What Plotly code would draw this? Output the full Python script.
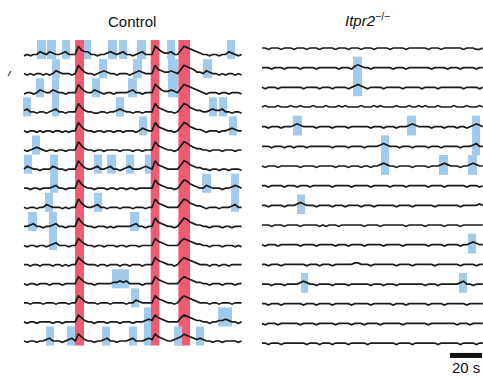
import plotly.graph_objects as go

# ---------------- data ----------------
SAMPLE_DT = 2.0  # seconds between samples

# Control traces (top to bottom). Each digit = dF/F level sample (baseline ~3)
control_traces = [
    "2323354354 3345333965 5332334543 4533234533 3975445336 9876543323 323354323",
    "3232332323 5433323964 3323454332 3332345433 3965445436 9876443543 323233232",
    "2332354335 4332333964 3354323323 3334533233 3975445436 9876543233 323323332",
    "4533233234 5332333964 3322332334 5433233233 3965433236 9865443345 445332332",
    "3233232332 3323233964 3323323323 3233323543 3965433236 9865443233 323345433",
    "3234543233 2332333964 3323323333 2333233233 3965433236 9865443323 332333233",
    "3543323335 4332333964 3345334533 2345333454 3965433336 9865443323 323323332",
    "3323323334 5332333964 3323332332 3323323333 3965433236 9865433543 332334543",
    "3233233543 3323233964 3345332333 2333233323 3965433336 9865443233 323334533",
    "3345332334 5332333964 3323332323 3333453323 3965433236 9865443323 332332333",
    "3233233234 5333233864 3323323332 3323332333 3865433336 8765443323 332333232",
    "3323323332 3323233864 3332332333 2332333233 3865433236 8765433323 323323333",
    "3233233323 3323333864 3323333344 5453333233 3865433336 8765443323 332333233",
    "3323332333 2333233864 3332333233 3323354333 3865433236 8765433323 323332333",
    "3233233332 3323333864 3323332333 2333233345 4865433336 8765443323 344543323",
    "3233233453 3323453864 3323345332 3334533345 4865433456 8765454332 332333323",
]

# Itpr2-/- traces (top to bottom)
itpr2_traces = [
    "3323332333 2333233323 3332333233 3233323333 2333323333 3323332333 3332333223",
    "3332333233 3323333233 3333233324 5433233333 3233323333 3332333323 3323333233",
    "3233323333 3332333323 3323333234 5432333323 3333233333 2333323333 3332333323",
    "3433343334 3343334333 4333434333 3433343433 3343334334 3433343333 4333433343",
    "3323332333 4543333233 3323333233 3333233323 3323334543 3332333233 3233234543",
    "3332333233 2333233333 3323333233 3323333454 3332333233 3323332333 3323334533",
    "3233323333 3323333233 3332333233 3233233454 3323333233 3323334543 3323345433",
    "3323333233 3233323333 3323333323 3333233333 2333323333 3323333233 3333233323",
    "3323333233 3454333233 3323332333 3233323333 3323333233 3333233333 3323333343",
    "3332333233 3323333323 2333233333 3323333233 3333323333 3233333233 3323333333",
    "3233323333 3323333233 3332333233 3323333323 3333233333 3323333233 3323345433",
    "3323332333 3333233323 3323333334 4333233333 3323333233 3333233333 3323333233",
    "3332333233 3345433233 3323333233 3333233323 3323333333 3233323333 3345332333",
    "3323332333 3332333233 3323333323 3333233333 3233323333 3323333233 3333233333",
    "3233323333 3323333233 3332333323 3323333233 3333233333 3323333333 3233323333",
    "3323332333 3333233323 3323333233 3332333333 3323333233 3333323333 3323333233",
]

# Global (synchronous) events in Control, seconds
global_events = [(31.9, 37.5), (79.2, 84.6), (96.5, 103.8)]

# Local events: (first trace, last trace, t start s, t end s)
control_events = [
    (0, 0, 8.1, 13.8), (0, 0, 14.4, 20.0), (1, 1, 17.5, 22.5), (0, 0, 23.8, 28.8),
    (0, 0, 37.5, 41.9), (0, 0, 52.5, 58.1), (0, 0, 59.4, 64.4), (0, 0, 70.6, 76.3),
    (1, 1, 68.1, 73.8), (2, 2, 65.0, 70.6), (0, 0, 89.4, 94.4), (1, 2, 90.0, 96.3),
    (0, 0, 126.9, 131.9), (1, 1, 46.9, 51.9), (1, 1, 111.9, 117.5), (2, 2, 7.5, 12.5),
    (2, 3, 17.5, 21.9), (2, 2, 42.5, 47.5), (3, 3, -0.6, 4.4), (3, 3, 57.5, 62.5),
    (3, 3, 115.6, 120.6), (3, 3, 121.9, 126.9), (4, 4, 71.9, 76.9), (4, 4, 128.1, 133.1),
    (5, 5, 5.0, 10.0), (6, 6, 0.0, 5.0), (6, 7, 16.3, 21.3), (6, 6, 43.8, 48.8),
    (6, 6, 51.9, 57.5), (6, 6, 63.8, 68.8), (6, 6, 75.6, 79.4), (7, 7, 111.3, 116.9),
    (7, 8, 129.4, 134.4), (8, 8, 13.1, 18.1), (8, 8, 43.8, 48.8), (9, 9, 2.5, 8.1),
    (9, 10, 15.6, 20.6), (9, 9, 66.3, 71.9), (12, 12, 55.0, 65.6), (13, 13, 66.9, 71.9),
    (14, 15, 75.0, 79.4), (14, 14, 121.3, 130.0), (15, 15, 13.8, 18.8), (15, 15, 26.9, 31.9),
    (15, 15, 48.8, 53.8), (15, 15, 65.6, 70.6), (15, 15, 93.8, 98.8), (15, 15, 107.5, 112.5),
]

itpr2_events = [
    (1, 2, 56.9, 62.5), (4, 4, 19.4, 25.0), (4, 4, 90.6, 96.3), (4, 5, 131.3, 136.3),
    (6, 6, 128.8, 134.4), (5, 6, 74.4, 79.4), (6, 6, 110.6, 116.3), (8, 8, 21.9, 26.9),
    (10, 10, 128.8, 133.8), (12, 12, 24.4, 28.8), (12, 12, 123.1, 128.1),
]

scale_bar_s = 20

# ---------------- figure ----------------
AMP = 0.072      # trace units per digit step (relative to trace spacing)
BASE = 3
LINE = dict(color="#1a1a1a", width=1.7)
BLUE = "#a0cbec"
RED = "#ef5b70"

fig = go.Figure()


def add_traces(traces, xa, ya):
    for k, s in enumerate(traces):
        vals = [int(c) for c in s.replace(" ", "")]
        t = [i * SAMPLE_DT for i in range(len(vals))]
        y = [-k + (v - BASE) * AMP for v in vals]
        fig.add_trace(go.Scatter(x=t, y=y, mode="lines", line=LINE, xaxis=xa, yaxis=ya,
                                 hoverinfo="skip", showlegend=False))


add_traces(control_traces, "x", "y")
add_traces(itpr2_traces, "x2", "y2")

shapes = []
# row extents (above / below baseline) per panel
L_UP, L_DN = 0.76, 0.24
R_UP, R_DN = 0.56, 0.45
nL = len(control_traces)
for t0, t1 in global_events:
    shapes.append(dict(type="rect", xref="x", yref="y", x0=t0, x1=t1,
                       y0=-(nL - 1) - L_DN, y1=L_UP, fillcolor=RED, line_width=0, layer="below"))
for r0, r1, t0, t1 in control_events:
    shapes.append(dict(type="rect", xref="x", yref="y", x0=t0, x1=t1,
                       y0=-r1 - L_DN, y1=-r0 + L_UP, fillcolor=BLUE, line_width=0, layer="below"))
for r0, r1, t0, t1 in itpr2_events:
    shapes.append(dict(type="rect", xref="x2", yref="y2", x0=t0, x1=t1,
                       y0=-r1 - R_DN, y1=-r0 + R_UP, fillcolor=BLUE, line_width=0, layer="below"))

# scale bar
sb_end = 137.5
sb_y = -15.63
shapes.append(dict(type="line", xref="x2", yref="y2", x0=sb_end - scale_bar_s, x1=sb_end,
                   y0=sb_y, y1=sb_y, line=dict(color="#111", width=5)))

# small stray tick present at the left edge of the original figure
shapes.append(dict(type="line", xref="paper", yref="paper", x0=8 / 483, x1=11 / 483,
                   y0=1 - 76 / 379, y1=1 - 71 / 379, line=dict(color="#444", width=1.3)))

FONT = "Arial, Liberation Sans, Helvetica, sans-serif"
annotations = [
    dict(text="Control", x=131.5 / 483, y=1 - 21 / 379, xref="paper", yref="paper",
         showarrow=False, xanchor="center", yanchor="middle",
         font=dict(family=FONT, size=15, color="#111")),
    dict(text="<i>Itpr2</i><sup>−/−</sup>", x=367 / 483, y=1 - 20 / 379, xref="paper", yref="paper",
         showarrow=False, xanchor="center", yanchor="middle",
         font=dict(family=FONT, size=15, color="#111")),
    dict(text=f"{scale_bar_s} s", x=sb_end - scale_bar_s / 2, y=-16.24, xref="x2", yref="y2",
         showarrow=False, xanchor="center", yanchor="middle",
         font=dict(family=FONT, size=15, color="#111")),
]

hidden = dict(visible=False, showgrid=False, zeroline=False, fixedrange=True)
fig.update_layout(
    width=483, height=379,
    margin=dict(l=0, r=0, t=0, b=0),
    paper_bgcolor="white", plot_bgcolor="rgba(0,0,0,0)",
    xaxis=dict(domain=[0, 250 / 483], range=[-15, 141.25], **hidden),
    yaxis=dict(domain=[0, 1], range=[-16.99, 2.853], **hidden),
    xaxis2=dict(domain=[252 / 483, 1], range=[-6.25, 138.125], anchor="y2", **hidden),
    yaxis2=dict(domain=[0, 1], range=[-16.828, 2.440], anchor="x2", **hidden),
    shapes=shapes,
    annotations=annotations,
)

fig.write_html("out.html", config={"displayModeBar": False, "staticPlot": True},
               post_script="document.body.style.margin='0px';document.body.style.overflow='hidden';")
